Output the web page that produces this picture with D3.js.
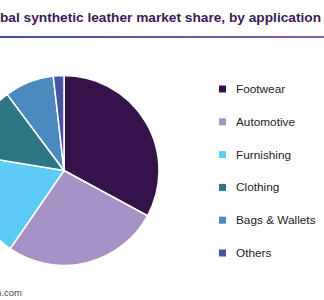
<!DOCTYPE html>
<html><head><meta charset="utf-8">
<script src="https://cdn.jsdelivr.net/npm/d3@7"></script>
<style>html,body{margin:0;padding:0;background:#fff;overflow:hidden}</style>
</head><body>
<svg id="c" width="324" height="300"></svg>
<script>
const categories = ["Footwear","Automotive","Furnishing","Clothing","Bags & Wallets","Others"];
const shares = [32.9, 26.7, 18.0, 12.2, 8.4, 1.8];
const colors = ["#36124a","#a593c5","#5ccbf5","#2f7684","#4a8abf","#4654a3"];
const titleText = "Global synthetic leather market share, by application";
const sourceText = "Source: www.grandviewresearch.com";

const svg = d3.select("#c");
const defs = svg.append("defs");
const grad = defs.append("linearGradient").attr("id","g").attr("x1","0%").attr("x2","100%");
grad.append("stop").attr("offset","0%").attr("stop-color","#3f50a0");
grad.append("stop").attr("offset","100%").attr("stop-color","#8a5ea8");

svg.append("text").attr("x",321).attr("y",22).attr("text-anchor","end")
  .attr("font-family","Liberation Sans, Arial, sans-serif").attr("font-weight","bold")
  .attr("font-size",13.7).attr("fill","#3b1a55").text(titleText);
svg.append("rect").attr("x",0).attr("y",36).attr("width",324).attr("height",2).attr("fill","url(#g)");

const color = d3.scaleOrdinal().domain(categories).range(colors);
const pie = d3.pie().sort(null).value(d=>d.v);
const arc = d3.arc().innerRadius(0).outerRadius(95);
const data = categories.map((c,i)=>({c, v: shares[i]}));
const g = svg.append("g").attr("transform","translate(64,170.5)");
g.selectAll("path").data(pie(data)).join("path")
  .attr("d", arc).attr("fill", d=>color(d.data.c))
  .attr("stroke","#fff").attr("stroke-width",1.5);

const y = d3.scalePoint().domain(categories).range([89, 253]);
const lg = svg.append("g");
lg.selectAll("rect").data(categories).join("rect")
  .attr("x",219).attr("y",d=>y(d)-3.5).attr("width",7).attr("height",7).attr("fill",d=>color(d));
lg.selectAll("text").data(categories).join("text")
  .attr("x",236).attr("y",d=>y(d)+4)
  .attr("font-family","Liberation Sans, Arial, sans-serif").attr("font-size",11.8).attr("fill","#222")
  .text(d=>d);

svg.append("text").attr("x",22).attr("y",296).attr("text-anchor","end")
  .attr("font-family","Liberation Sans, Arial, sans-serif").attr("font-size",9.5).attr("fill","#444")
  .text(sourceText);
</script>
</body></html>
